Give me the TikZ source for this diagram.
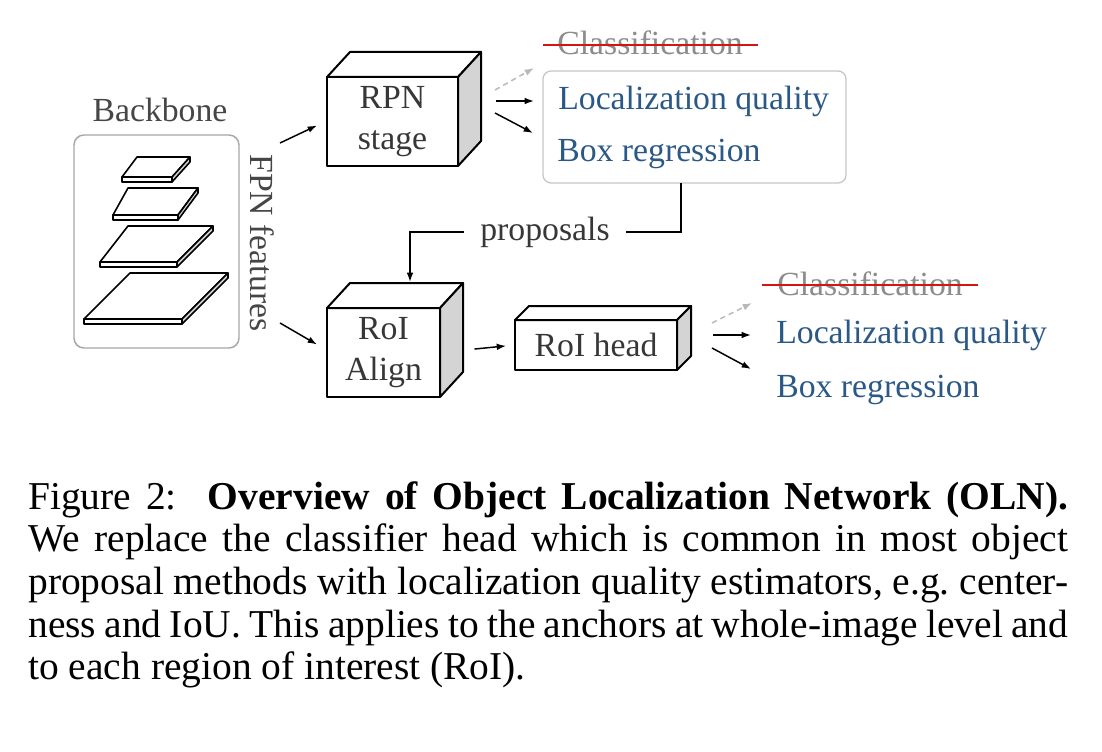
\documentclass[tikz,border=0pt]{standalone}
\usepackage{fontspec}
\setmainfont{Liberation Serif}
\usetikzlibrary{arrows.meta,calc}
\definecolor{oblue}{RGB}{42,88,135}
\definecolor{dgray}{RGB}{55,55,55}
\definecolor{bgray}{RGB}{70,70,70}
\definecolor{cgray}{RGB}{140,140,140}
\definecolor{sidegray}{RGB}{212,212,212}
\definecolor{sred}{RGB}{215,20,20}
% cube top and side faces behind a front-face node
\newcommand{\cubesides}[3]{%
  \filldraw[cubeline, fill=white] (#1.north west) -- ++(#2,-#3) -- ($(#1.north east)+(#2,-#3)$) -- (#1.north east) -- cycle;
  \filldraw[cubeline, fill=sidegray] (#1.north east) -- ++(#2,-#3) -- ($(#1.south east)+(#2,-#3)$) -- (#1.south east) -- cycle;}
% feature plate: flx, fy, blx, brx, by, frx
\newcommand{\plate}[6]{%
  \filldraw[plateline, fill=white] (#1,#2) -- (#3,#5) -- (#4,#5) -- (#6,#2) -- cycle;
  \filldraw[plateline, fill=white] (#1,#2) rectangle (#6,#2+5);
  \filldraw[plateline, fill=sidegray] (#6,#2) -- (#4,#5) -- (#4,#5+5) -- (#6,#2+5) -- cycle;}
\begin{document}
\begin{tikzpicture}[x=0.75pt,y=-0.75pt,
  dtext/.style={font=\fontsize{25.3pt}{31pt}\selectfont, text=dgray},
  cubeline/.style={draw=black, line width=1.5pt, line join=round},
  plateline/.style={draw=black, line width=1.2pt, line join=round},
  cubebox/.style={cubeline, fill=white, outer sep=0pt, inner sep=0pt, align=center, dtext},
  arr/.style={line width=1.1pt, -{Latex[length=7pt,width=5pt]}},
  darr/.style={arr, draw=black!28, dash pattern=on 4pt off 3pt},
  outtext/.style={font=\fontsize{25.3pt}{30pt}\selectfont, text=oblue, inner sep=0pt, anchor=base west},
  clstext/.style={font=\fontsize{25.3pt}{30pt}\selectfont, text=cgray, inner sep=0pt, anchor=base west},
  strike/.style={draw=sred, line width=1.5pt}]
\useasboundingbox[fill=white] (0,0) rectangle (1102,752);

% Backbone
\node[dtext, text=bgray] (bbl) at (160,110) {Backbone};
\draw[draw=black!35, line width=1.1pt, rounded corners=7.5pt] (74,135) rectangle (239,348);
\plate{122}{177}{137}{190}{157}{172}
\plate{113}{215}{128}{198}{188}{178}
\plate{100}{262}{128}{213}{226}{177}
\plate{84}{319}{130}{228}{273}{182}
\node[dtext, text=bgray, rotate=-90] (fpn) at (262,243) {FPN features};

% cubes
\node[cubebox, minimum width=98.25pt, minimum height=66.75pt] (rpn) at (392.5,121.5) {RPN\\stage};
\cubesides{rpn}{23}{25}
\node[cubebox, minimum width=84.75pt, minimum height=66.75pt] (roia) at (383.5,352.5) {RoI\\Align};
\cubesides{roia}{23}{25}
\node[cubebox, minimum width=121.5pt, minimum height=37.5pt] (roih) at (596,345) {RoI head};
\cubesides{roih}{14}{14}

% backbone to cubes
\coordinate (f1) at (280,143);
\coordinate (f2) at (280,323);
\draw[arr] (f1) -- ([xshift=-7.5pt,yshift=-3pt]rpn.west);
\draw[arr] (f2) -- ([xshift=-7.5pt,yshift=6pt]roia.west);

% RPN outputs
\node[clstext] (cls1) at (557,55) {Classification};
\draw[strike] ([xshift=-10.5pt,yshift=-1pt]cls1.west) -- ([xshift=11pt,yshift=-1pt]cls1.east);
\draw[draw=black!22, line width=1pt, rounded corners=6pt] (543,71) rectangle (846,183);
\node[outtext] (loc1) at (558,110) {Localization quality};
\node[outtext] (box1) at (557,162) {Box regression};
\coordinate (r1a) at (495,90);  \coordinate (r1b) at (534,68);
\coordinate (r2a) at (496,101); \coordinate (r2b) at (534,101);
\coordinate (r3a) at (495,113); \coordinate (r3b) at (533,133);
\draw[darr] (r1a) -- (r1b);
\draw[arr] (r2a) -- (r2b);
\draw[arr] (r3a) -- (r3b);

% proposals
\node[dtext, inner xsep=12pt] (prop) at (545,232) {proposals};
\coordinate (pstart) at (681,183);
\coordinate (ptarget) at (410,282);
\draw[line width=1.1pt] (pstart) |- (prop.east);
\draw[arr] (prop.west) -| (ptarget);

% RoI align to head
\draw[arr, shorten <=26pt, shorten >=6.75pt] (roia.east) -- (roih.west);

% RoI head outputs
\node[clstext] (cls2) at (777,295) {Classification};
\draw[strike] ([xshift=-11pt,yshift=-1pt]cls2.west) -- ([xshift=11pt,yshift=-1pt]cls2.east);
\node[outtext] (loc2) at (776,343) {Localization quality};
\node[outtext] (box2) at (776,397) {Box regression};
\coordinate (h1a) at (712,323); \coordinate (h1b) at (752,303);
\coordinate (h2a) at (713,335); \coordinate (h2b) at (751,335);
\coordinate (h3a) at (712,348); \coordinate (h3b) at (751,369);
\draw[darr] (h1a) -- (h1b);
\draw[arr] (h2a) -- (h2b);
\draw[arr] (h3a) -- (h3b);

% caption
\node[anchor=north west, inner sep=0pt, text width=780pt, align=justify,
      font=\fontsize{29.6pt}{32pt}\selectfont] (cap) at (28,481)
{\hyphenpenalty=10000\tolerance=9999\noindent
Figure 2:\hspace{0.2em} \textbf{Overview of Object Localization Network (OLN).}\linebreak
We replace the classifier head which is common in most object\linebreak
proposal methods with localization quality estimators, e.g.\ center-\linebreak
ness and IoU. This applies to the anchors at whole-image level and\linebreak
to each region of interest (RoI).};
\end{tikzpicture}
\end{document}
